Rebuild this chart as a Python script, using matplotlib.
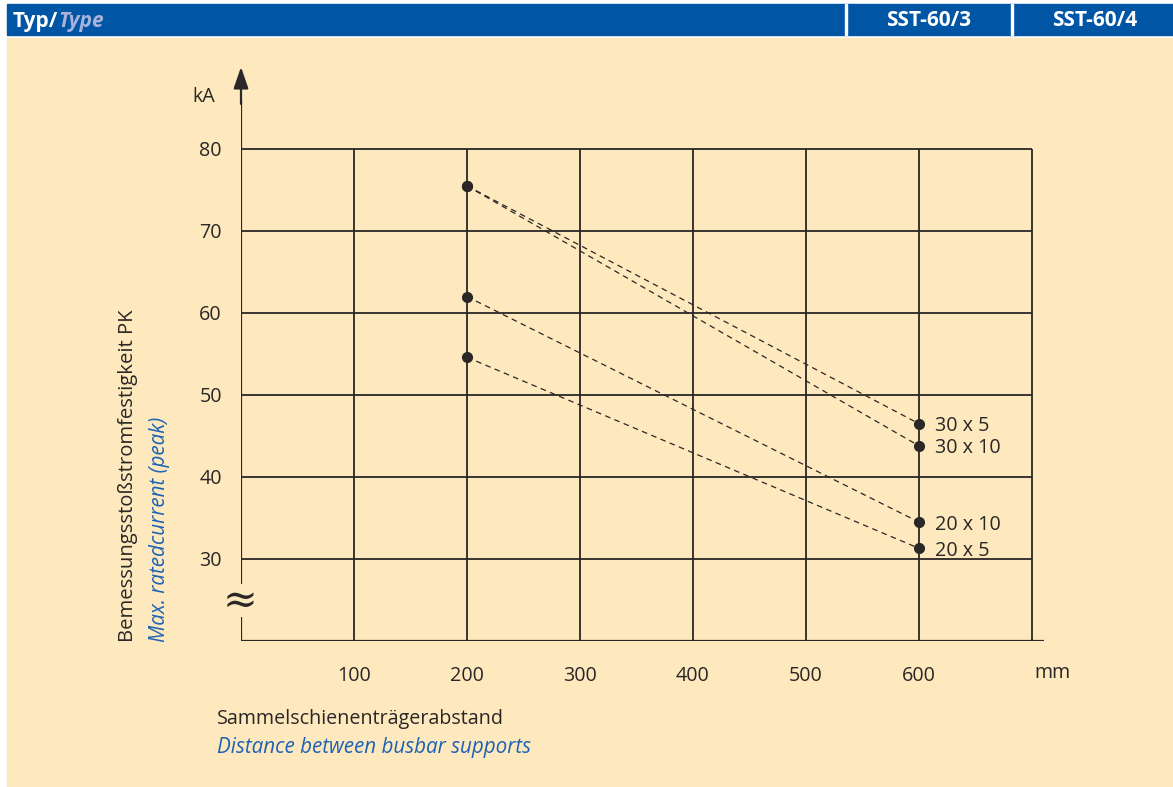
import matplotlib
matplotlib.use("Agg")
import matplotlib.pyplot as plt
from matplotlib.patches import Rectangle

# data
x_start = [200, 200, 200, 200]
x_end = [600, 600, 600, 600]
y_start = [75.5, 75.5, 62.0, 54.6]
y_end = [46.5, 43.8, 34.5, 31.3]
series = ["30 x 5", "30 x 10", "20 x 10", "20 x 5"]
xticks = [100, 200, 300, 400, 500, 600]
yticks = [30, 40, 50, 60, 70, 80]

W, H = 1173, 787
bg = "#FDE9BD"
blue = "#0055A5"
ink = "#2B2727"
txtblue = "#1D62B6"

plt.rcParams["font.family"] = ["Open Sans", "DejaVu Sans"]

fig = plt.figure(figsize=(W / 100, H / 100), dpi=100)
fig.patch.set_facecolor("white")

def fx(px):
    return px / W

def fy(py):
    return 1 - py / H

# background panel and header bar
fig.patches.append(Rectangle((fx(7), fy(786)), fx(W - 7), (786 - 38) / H,
                             transform=fig.transFigure, color=bg, zorder=-2))
fig.patches.append(Rectangle((fx(7), fy(35)), fx(W - 7), 31 / H,
                             transform=fig.transFigure, color=blue, zorder=-2))
for sx in [846, 1012]:
    fig.patches.append(Rectangle((fx(sx - 1), fy(35)), fx(2), 31 / H,
                                 transform=fig.transFigure, color="white", zorder=-1))
hfs = 15
t = fig.text(fx(13), fy(21), "Typ/", color="white", fontsize=hfs,
             fontweight="bold", va="center", ha="left")
fig.canvas.draw()
bb = t.get_window_extent()
fig.text(bb.x1 / W, fy(21), "Type", color="#A8B3DB", fontsize=hfs,
         fontweight="bold", fontstyle="italic", va="center", ha="left")
fig.text(fx(929), fy(21), "SST-60/3", color="white", fontsize=hfs,
         fontweight="bold", va="center", ha="center")
fig.text(fx(1095), fy(21), "SST-60/4", color="white", fontsize=hfs,
         fontweight="bold", va="center", ha="center")

# main axes: x 0..710.6 over px 241..1044, y 20..90 over px 641..67
ax = fig.add_axes([fx(241), fy(641), (1044 - 241) / W, (641 - 67) / H])
ax.set_zorder(3)
ax.set_xlim(0, (1044 - 241) / 1.13)
ax.set_ylim(20, 90)
ax.axis("off")
ax.patch.set_alpha(0)

lw = 1.3
ax.hlines(yticks, 0, 700, color=ink, lw=lw)
ax.vlines(xticks + [700], 20, 80, color=ink, lw=lw)
ax.hlines(20, 0, (1044 - 241) / 1.13, color=ink, lw=lw + 0.3)
# y axis with break
ax.vlines(0, 20, 22.9, color=ink, lw=lw + 0.3)
ax.vlines(0, 26.9, 86, color=ink, lw=lw + 0.3)
ax.annotate("", xy=(0, 90), xytext=(0, 85.5),
            arrowprops=dict(arrowstyle="-|>,head_length=1.3,head_width=0.45",
                            color=ink, lw=lw + 0.3, shrinkA=0, shrinkB=0))
ax.text(-1, 24.9, "≈", fontsize=30, color=ink, ha="center", va="center",
        family="DejaVu Serif")

fs = 14.2
ifs = 14.9
dy = 0.3  # small downward nudge in data units (about 2.5 px)
for xs, xe, ys, ye, lab in zip(x_start, x_end, y_start, y_end, series):
    ax.plot([xs, xe], [ys, ye], ls=(0, (4.5, 3.5)), color=ink, lw=0.9)
    ax.plot([xs, xe], [ys, ye], ls="none", marker="o", ms=7, color=ink)
    ax.text(xe + 14, ye - dy, lab, fontsize=fs, color=ink, va="center", ha="left")

for v in yticks:
    ax.text(-17, v - dy, str(v), fontsize=fs, color=ink, ha="right", va="center")
for v in xticks:
    ax.text(v, 15.7, str(v), fontsize=fs, color=ink, ha="center", va="center")
fig.text(fx(1052), fy(673), "mm", fontsize=fs, color=ink, ha="center", va="center")
fig.text(fx(204), fy(97), "kA", fontsize=fs, color=ink, ha="center", va="center")

fig.text(fx(217), fy(719), "Sammelschienenträgerabstand", fontsize=fs, color=ink,
         ha="left", va="center")
fig.text(fx(217), fy(748), "Distance between busbar supports", fontsize=ifs,
         color=txtblue, fontstyle="italic", ha="left", va="center")
fig.text(fx(128), fy(642), "Bemessungsstoßstromfestigkeit PK", fontsize=14.6,
         color=ink, rotation=90, ha="center", va="bottom")
fig.text(fx(159), fy(642), "Max. ratedcurrent (peak)", fontsize=ifs,
         color=txtblue, fontstyle="italic", rotation=90, ha="center", va="bottom")

fig.savefig("out.png", dpi=100, facecolor=fig.get_facecolor())
